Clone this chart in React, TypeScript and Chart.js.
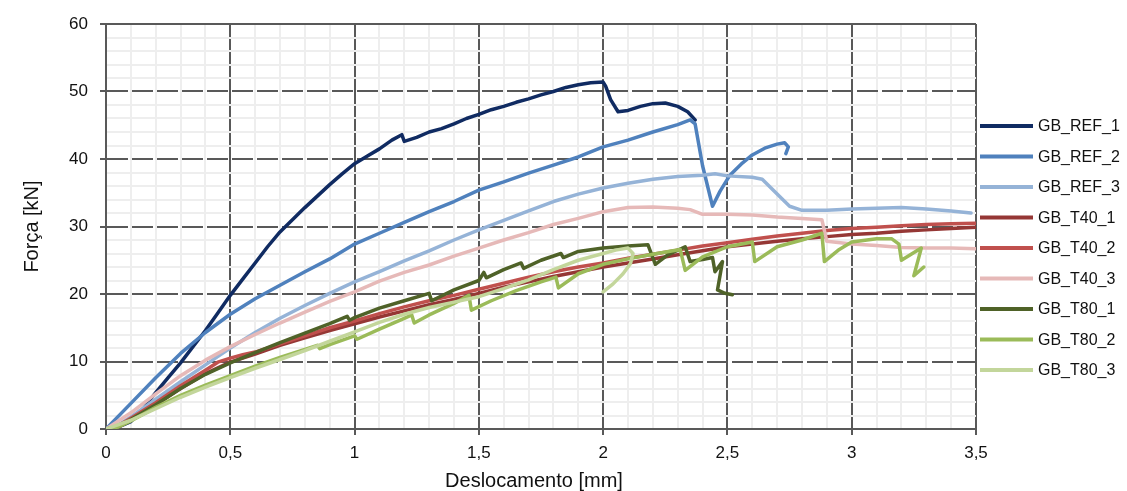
import React, { useEffect, useRef } from "react";
import { Chart, registerables } from "chart.js";

Chart.register(...registerables);

type Pt = [number, number];

// Series: [deslocamento mm, força kN]
const GB_REF_1: Pt[] = [
  [0, 0], [0.05, 0.3], [0.1, 1.1], [0.15, 3.0], [0.2, 5.4], [0.25, 7.6], [0.3, 9.8], [0.35, 12.2],
  [0.4, 14.6], [0.45, 17.2], [0.5, 19.8], [0.55, 22.2], [0.6, 24.6], [0.65, 27.0], [0.7, 29.2],
  [0.75, 31.0], [0.8, 32.8], [0.85, 34.5], [0.9, 36.2], [0.95, 37.8], [1.0, 39.3], [1.05, 40.4],
  [1.1, 41.5], [1.15, 42.8], [1.19, 43.6], [1.2, 42.6], [1.25, 43.2], [1.3, 44.0], [1.35, 44.5],
  [1.4, 45.2], [1.45, 46.0], [1.5, 46.6], [1.55, 47.3], [1.6, 47.8], [1.65, 48.4], [1.7, 48.9],
  [1.75, 49.5], [1.8, 50.0], [1.85, 50.6], [1.9, 51.0], [1.95, 51.3], [2.0, 51.4], [2.01, 50.8],
  [2.03, 48.8], [2.06, 47.0], [2.1, 47.2], [2.15, 47.8], [2.2, 48.2], [2.25, 48.3], [2.3, 47.8],
  [2.34, 47.0], [2.37, 45.8],
];
const GB_REF_2: Pt[] = [
  [0, 0], [0.1, 3.8], [0.2, 7.6], [0.3, 11.2], [0.4, 14.3], [0.5, 17.0], [0.6, 19.3], [0.7, 21.3],
  [0.8, 23.3], [0.9, 25.2], [1.0, 27.4], [1.1, 29.0], [1.2, 30.6], [1.3, 32.2], [1.4, 33.7],
  [1.5, 35.4], [1.6, 36.6], [1.7, 37.9], [1.8, 39.1], [1.9, 40.3], [2.0, 41.8], [2.1, 42.8],
  [2.2, 44.0], [2.3, 45.1], [2.35, 45.8], [2.37, 45.2], [2.4, 39.0], [2.44, 33.0], [2.47, 35.2],
  [2.51, 37.6], [2.56, 39.4], [2.6, 40.6], [2.65, 41.6], [2.7, 42.2], [2.73, 42.4], [2.745, 41.8],
  [2.735, 40.8],
];
const GB_REF_3: Pt[] = [
  [0, 0], [0.05, 0.6], [0.1, 1.8], [0.2, 4.4], [0.3, 7.0], [0.4, 9.5], [0.5, 12.0], [0.6, 14.3],
  [0.7, 16.4], [0.8, 18.3], [0.9, 20.1], [1.0, 21.8], [1.1, 23.3], [1.2, 24.9], [1.3, 26.4],
  [1.4, 28.0], [1.5, 29.5], [1.6, 30.9], [1.7, 32.3], [1.8, 33.7], [1.9, 34.8], [2.0, 35.7],
  [2.1, 36.4], [2.2, 37.0], [2.3, 37.4], [2.4, 37.6], [2.45, 37.8], [2.5, 37.5], [2.6, 37.3],
  [2.64, 37.0], [2.7, 34.8], [2.75, 33.0], [2.8, 32.4], [2.9, 32.4], [3.0, 32.6], [3.1, 32.7],
  [3.2, 32.8], [3.3, 32.6], [3.4, 32.3], [3.48, 32.0],
];
const GB_T40_1: Pt[] = [
  [0, 0], [0.05, 0.3], [0.1, 1.3], [0.2, 3.6], [0.3, 6.0], [0.4, 8.2], [0.5, 9.9], [0.6, 11.1],
  [0.7, 12.4], [0.8, 13.5], [0.9, 14.6], [1.0, 15.6], [1.1, 16.6], [1.2, 17.5], [1.3, 18.4],
  [1.4, 19.2], [1.5, 20.1], [1.6, 21.0], [1.7, 21.8], [1.8, 22.6], [1.9, 23.3], [2.0, 24.0],
  [2.1, 24.6], [2.2, 25.2], [2.3, 25.8], [2.4, 26.4], [2.5, 27.0], [2.6, 27.4], [2.7, 27.8],
  [2.8, 28.2], [2.9, 28.5], [3.0, 28.8], [3.1, 29.0], [3.2, 29.3], [3.3, 29.5], [3.4, 29.7],
  [3.5, 29.9],
];
const GB_T40_2: Pt[] = [
  [0, 0], [0.05, 0.5], [0.1, 1.6], [0.2, 3.9], [0.3, 6.4], [0.4, 8.7], [0.45, 9.9], [0.5, 10.5],
  [0.55, 11.0], [0.6, 11.4], [0.7, 12.6], [0.8, 13.8], [0.9, 15.0], [1.0, 16.0], [1.1, 17.1],
  [1.2, 18.1], [1.3, 19.0], [1.4, 19.8], [1.5, 20.7], [1.6, 21.6], [1.7, 22.5], [1.8, 23.3],
  [1.9, 24.0], [2.0, 24.6], [2.1, 25.3], [2.2, 25.9], [2.3, 26.5], [2.4, 27.1], [2.5, 27.6],
  [2.6, 28.1], [2.7, 28.6], [2.8, 29.0], [2.9, 29.4], [3.0, 29.7], [3.1, 29.9], [3.2, 30.1],
  [3.3, 30.3], [3.4, 30.4], [3.5, 30.5],
];
const GB_T40_3: Pt[] = [
  [0, 0], [0.1, 2.4], [0.2, 5.2], [0.3, 7.9], [0.4, 10.2], [0.5, 12.2], [0.6, 14.0], [0.7, 15.7],
  [0.8, 17.3], [0.9, 18.9], [1.0, 20.3], [1.1, 21.9], [1.2, 23.2], [1.3, 24.3], [1.4, 25.6],
  [1.5, 26.8], [1.6, 28.0], [1.7, 29.1], [1.8, 30.3], [1.9, 31.2], [2.0, 32.2], [2.1, 32.8],
  [2.2, 32.9], [2.3, 32.7], [2.35, 32.5], [2.4, 31.8], [2.5, 31.8], [2.6, 31.7], [2.7, 31.4],
  [2.8, 31.2], [2.88, 31.0], [2.9, 27.8], [3.0, 27.4], [3.1, 27.2], [3.2, 26.9], [3.3, 26.8],
  [3.4, 26.8], [3.5, 26.7],
];
const GB_T80_1: Pt[] = [
  [0, 0], [0.05, 0.4], [0.1, 1.4], [0.2, 3.6], [0.3, 6.0], [0.4, 8.1], [0.5, 9.8], [0.6, 11.3],
  [0.7, 12.8], [0.8, 14.2], [0.9, 15.6], [0.97, 16.7], [0.98, 16.1], [1.0, 16.5], [1.1, 17.9],
  [1.2, 19.0], [1.3, 20.1], [1.31, 19.0], [1.4, 20.6], [1.5, 22.0], [1.52, 23.2], [1.53, 22.4],
  [1.6, 23.6], [1.67, 24.6], [1.68, 23.8], [1.75, 25.0], [1.83, 26.0], [1.84, 25.4], [1.9, 26.3],
  [2.0, 26.8], [2.1, 27.1], [2.18, 27.3], [2.21, 24.4], [2.26, 25.8], [2.33, 27.0], [2.35, 24.8],
  [2.4, 25.1], [2.44, 25.4], [2.45, 23.3], [2.48, 24.8], [2.46, 20.6], [2.49, 20.1], [2.52, 19.9],
];
const GB_T80_2: Pt[] = [
  [0, 0], [0.05, 0.3], [0.1, 1.2], [0.2, 3.2], [0.3, 5.0], [0.4, 6.5], [0.5, 7.9], [0.6, 9.3],
  [0.7, 10.6], [0.8, 11.8], [0.85, 12.4], [0.86, 11.9], [0.9, 12.5], [1.0, 13.8], [1.01, 13.3],
  [1.1, 14.8], [1.2, 16.4], [1.23, 16.9], [1.24, 15.7], [1.3, 16.9], [1.4, 18.6], [1.46, 19.8],
  [1.47, 17.6], [1.55, 19.0], [1.65, 20.5], [1.75, 21.8], [1.81, 22.5], [1.82, 20.9], [1.9, 23.0],
  [2.0, 24.4], [2.1, 25.2], [2.2, 25.9], [2.31, 26.6], [2.33, 23.5], [2.4, 25.5], [2.5, 27.0],
  [2.6, 27.7], [2.61, 24.8], [2.7, 27.0], [2.8, 28.0], [2.88, 29.0], [2.89, 24.8], [2.95, 26.6],
  [3.0, 27.7], [3.1, 28.2], [3.16, 28.2], [3.19, 27.4], [3.2, 25.0], [3.28, 26.8], [3.25, 22.7],
  [3.29, 24.0],
];
const GB_T80_3: Pt[] = [
  [0, 0], [0.1, 1.3], [0.2, 3.0], [0.3, 4.7], [0.4, 6.2], [0.5, 7.6], [0.6, 9.0], [0.7, 10.3],
  [0.8, 11.6], [0.9, 13.0], [1.0, 14.4], [1.1, 15.8], [1.2, 17.0], [1.3, 18.0], [1.4, 18.8],
  [1.5, 19.6], [1.6, 20.8], [1.7, 22.1], [1.8, 23.6], [1.9, 25.0], [2.0, 26.0], [2.05, 26.5],
  [2.1, 26.8], [2.12, 26.0], [2.11, 24.5], [2.08, 23.0], [2.04, 21.5], [2.0, 20.3],
];

const SERIES_NAMES = [
  "GB_REF_1", "GB_REF_2", "GB_REF_3", "GB_T40_1", "GB_T40_2", "GB_T40_3",
  "GB_T80_1", "GB_T80_2", "GB_T80_3",
];
const SERIES_DATA = [
  GB_REF_1, GB_REF_2, GB_REF_3, GB_T40_1, GB_T40_2, GB_T40_3, GB_T80_1, GB_T80_2, GB_T80_3,
];
const SERIES_COLORS = [
  "#102B62", "#4F81BD", "#95B3D7", "#953735", "#C0504D", "#E6B9B8",
  "#4F6228", "#9BBB59", "#C3D69B",
];

const X_MAJOR_TICKS = [0, 0.5, 1, 1.5, 2, 2.5, 3, 3.5];
const Y_MAJOR_TICKS = [0, 10, 20, 30, 40, 50, 60];
const X_TITLE = "Deslocamento [mm]";
const Y_TITLE = "Força [kN]";

const FONT = "'Liberation Sans', Arial, sans-serif";
const TEXT = "#111111";
const MAJOR = "#595959";
const MINOR = "#EEEEEE";

const isMajor = (v: number, majors: number[]) => majors.some((m) => Math.abs(m - v) < 1e-6);
const fmt = (v: number) => String(Math.round(v * 10) / 10).replace(".", ",");

function withMinor(majors: number[], sub: number) {
  const out: number[] = [];
  for (let i = 0; i < majors.length; i++) {
    out.push(majors[i]);
    if (i < majors.length - 1) {
      const step = (majors[i + 1] - majors[i]) / sub;
      for (let k = 1; k < sub; k++) out.push(majors[i] + step * k);
    }
  }
  return out;
}

const overlay = {
  id: "overlay",
  afterDraw(chart: any) {
    const { ctx, chartArea } = chart;
    ctx.save();
    ctx.fillStyle = TEXT;
    ctx.font = `20px ${FONT}`;
    ctx.textAlign = "center";
    ctx.textBaseline = "middle";
    ctx.fillText(X_TITLE, chartArea.left + (chartArea.right - chartArea.left) / 2 - 7, 481);
    ctx.save();
    ctx.translate(32, (chartArea.top + chartArea.bottom) / 2);
    ctx.rotate(-Math.PI / 2);
    ctx.fillText(Y_TITLE, 0, 0);
    ctx.restore();
    ctx.font = `16px ${FONT}`;
    ctx.textAlign = "left";
    SERIES_NAMES.forEach((name, i) => {
      const y = 126 + i * 30.5;
      ctx.strokeStyle = SERIES_COLORS[i];
      ctx.lineWidth = 4;
      ctx.beginPath();
      ctx.moveTo(980, y);
      ctx.lineTo(1033, y);
      ctx.stroke();
      ctx.fillStyle = TEXT;
      ctx.fillText(name, 1038, y + 1);
    });
    ctx.restore();
  },
};

export default function App() {
  const ref = useRef<HTMLCanvasElement | null>(null);
  useEffect(() => {
    document.body.style.margin = "0";
    const canvas = ref.current!;
    const chart = new Chart(canvas, {
      type: "scatter",
      data: {
        datasets: SERIES_DATA.map((pts, i) => ({
          label: SERIES_NAMES[i],
          data: pts.map(([x, y]) => ({ x, y })),
          showLine: true,
          borderColor: SERIES_COLORS[i],
          backgroundColor: SERIES_COLORS[i],
          borderWidth: 3.5,
          borderJoinStyle: "round",
          borderCapStyle: "round",
          pointRadius: 0,
          pointHoverRadius: 0,
          tension: 0,
          order: SERIES_DATA.length - i,
        })),
      },
      options: {
        responsive: false,
        animation: false,
        events: [],
        layout: { padding: { left: 0, top: 24, right: 151, bottom: 0 } },
        plugins: { legend: { display: false }, tooltip: { enabled: false } },
        scales: {
          x: {
            type: "linear",
            min: 0,
            max: 3.5,
            afterBuildTicks: (s: any) => {
              s.ticks = withMinor(X_MAJOR_TICKS, 5).map((value) => ({ value }));
            },
            afterFit: (s: any) => {
              s.height = 62;
            },
            ticks: {
              autoSkip: false,
              maxRotation: 0,
              minRotation: 0,
              padding: 8,
              color: TEXT,
              font: { family: FONT, size: 17 },
              callback: (v: any) => (isMajor(Number(v), X_MAJOR_TICKS) ? fmt(Number(v)) : ""),
            },
            grid: {
              color: (c: any) => (isMajor(c.tick?.value, X_MAJOR_TICKS) ? MAJOR : MINOR),
              lineWidth: 2,
              tickLength: 6,
              tickColor: (c: any) => (isMajor(c.tick?.value, X_MAJOR_TICKS) ? MAJOR : "rgba(0,0,0,0)"),
              tickWidth: 2,
            },
            border: { display: true, color: MAJOR, width: 2 },
          },
          y: {
            type: "linear",
            min: 0,
            max: 60,
            afterBuildTicks: (s: any) => {
              s.ticks = withMinor(Y_MAJOR_TICKS, 5).map((value) => ({ value }));
            },
            afterFit: (s: any) => {
              s.width = 106;
            },
            ticks: {
              autoSkip: false,
              padding: 12,
              color: TEXT,
              font: { family: FONT, size: 17 },
              callback: (v: any) => (isMajor(Number(v), Y_MAJOR_TICKS) ? fmt(Number(v)) : ""),
            },
            grid: {
              color: (c: any) => (isMajor(c.tick?.value, Y_MAJOR_TICKS) ? MAJOR : MINOR),
              lineWidth: 2,
              tickLength: 6,
              tickColor: (c: any) => (isMajor(c.tick?.value, Y_MAJOR_TICKS) ? MAJOR : "rgba(0,0,0,0)"),
              tickWidth: 2,
            },
            border: {
              display: true,
              color: MAJOR,
              width: 2,
              dash: (c: any) => {
                const v = c.tick?.value;
                if (v === undefined) return [];
                if (!isMajor(v, Y_MAJOR_TICKS)) return [];
                if (v === 0 || v === 60) return [];
                return [21, 4];
              },
            },
          },
        },
      },
      plugins: [overlay],
    } as any);
    return () => chart.destroy();
  }, []);
  return <canvas ref={ref} width={1127} height={491} style={{ display: "block" }} />;
}
